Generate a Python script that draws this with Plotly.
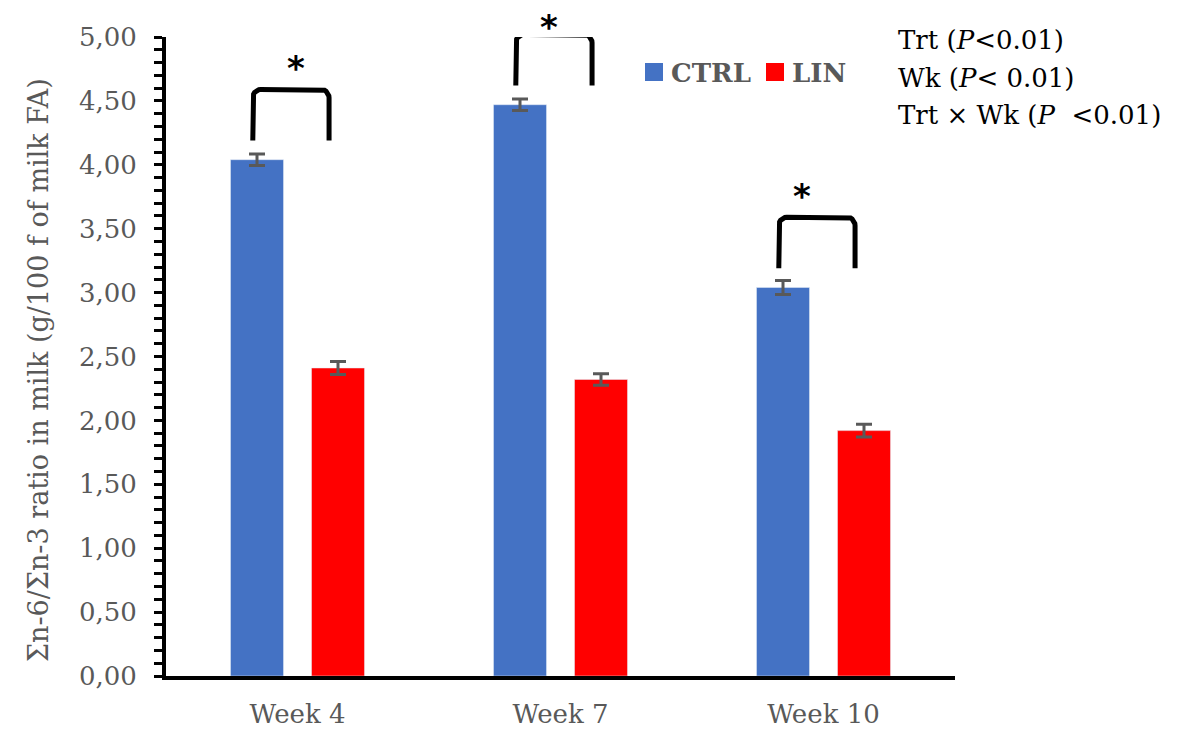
import numpy as np
import plotly.graph_objects as go

weeks = ["Week 4", "Week 7", "Week 10"]
ctrl = [4.04, 4.47, 3.04]
lin = [2.41, 2.32, 1.92]
ctrl_err = [0.045, 0.045, 0.055]
lin_err = [0.05, 0.045, 0.05]
significant = [True, True, True]
stats_lines = ["Trt (<i>P</i><0.01)", "Wk (<i>P</i>< 0.01)", "Trt × Wk (<i>P</i>  <0.01)"]
y_title = "Σn-6/Σn-3 ratio in milk (g/100 f of milk FA)"

GRAY = "#595959"
BLUE = "#4472C4"
RED = "#FF0000"
FONT = "DejaVu Serif"

# page body has an 8px margin, so the figure is offset inside the window
OFF = 8
W, H = 1184 - OFF, 729 - OFF
L, R, T, B = 166 - OFF, 229, 37 - OFF, 53
pw, ph = W - L - R, H - T - B

Y_MIN, Y_MAX = 0, 5
X_MIN, X_MAX = -0.5, len(weeks) - 0.5


def px_x(p):  # window pixel -> paper x
    return (p - OFF - L) / pw


def px_y(p):  # window pixel -> paper y
    return 1 - (p - OFF - T) / ph


def dx_paper(x):  # data x -> paper x
    return (x - X_MIN) / (X_MAX - X_MIN)


def dy_paper(y):  # data y -> paper y
    return (y - Y_MIN) / (Y_MAX - Y_MIN)


xs = list(range(len(weeks)))

fig = go.Figure()
fig.add_trace(go.Bar(
    x=xs, y=ctrl, name="CTRL", marker_color=BLUE, showlegend=False,
    error_y=dict(type="data", array=ctrl_err, color=GRAY, thickness=3, width=8),
))
fig.add_trace(go.Bar(
    x=xs, y=lin, name="LIN", marker_color=RED, showlegend=False,
    error_y=dict(type="data", array=lin_err, color=GRAY, thickness=3, width=8),
))

annotations = []
# significance brackets
rx, ry = 0.03, 0.065
t = np.linspace(0, np.pi / 2, 8)
STAR_SIZE = 34
star_box = int(STAR_SIZE * 1.17) + 1
for i, (c, sig) in enumerate(zip(ctrl, significant)):
    if not sig:
        continue
    x0, x1 = i - 0.17, i + 0.12
    ytop, ybot = c + 0.55, c + 0.15
    left_arc_x = x0 + rx - rx * np.cos(t)
    left_arc_y = ytop - ry + ry * np.sin(t)
    right_arc_x = x1 - rx + rx * np.sin(t)
    right_arc_y = ytop - ry + ry * np.cos(t)
    bx = np.concatenate([[x0], left_arc_x, right_arc_x, [x1]])
    by = np.concatenate([[ybot], left_arc_y, right_arc_y, [ybot]])
    fig.add_trace(go.Scatter(x=bx, y=by, mode="lines", showlegend=False,
                             line=dict(color="black", width=5), hoverinfo="skip",
                             cliponaxis=False))
    # keep the asterisk's text box inside the page
    star_y = min(dy_paper(ytop), px_y(OFF + star_box))
    annotations.append(dict(x=dx_paper((x0 + x1) / 2 - 0.02), y=star_y,
                            xref="paper", yref="paper", borderpad=0,
                            text="<b>*</b>", showarrow=False, yanchor="bottom",
                            font=dict(family="DejaVu Sans", size=STAR_SIZE, color="black")))

for k, line in enumerate(stats_lines):
    annotations.append(dict(x=px_x(896), y=px_y(40 + 37.5 * k), xref="paper", yref="paper",
                            text=line, showarrow=False, xanchor="left", yanchor="middle",
                            font=dict(family=FONT, size=26, color="black")))

# y-axis title as a rotated annotation
annotations.append(dict(x=px_x(38), y=px_y(370), xref="paper", yref="paper",
                        text=y_title, textangle=-90, showarrow=False,
                        xanchor="center", yanchor="middle",
                        font=dict(family=FONT, size=27, color=GRAY)))

# manual legend
shapes = []
legend_items = [("CTRL", BLUE, 645), ("LIN", RED, 766)]
for name, col, xl in legend_items:
    shapes.append(dict(type="rect", xref="paper", yref="paper",
                       x0=px_x(xl), x1=px_x(xl + 18), y0=px_y(81), y1=px_y(63),
                       fillcolor=col, line=dict(width=0)))
    annotations.append(dict(x=px_x(xl + 24), y=px_y(73), xref="paper", yref="paper",
                            text=f"<b>{name}</b>", showarrow=False, xanchor="left",
                            yanchor="middle",
                            font=dict(family=FONT, size=26, color=GRAY)))

fig.update_layout(
    width=W, height=H,
    margin=dict(l=L, r=R, t=T, b=B, autoexpand=False),
    plot_bgcolor="white", paper_bgcolor="white",
    separators=", ",
    barmode="group", bargap=0.384, bargroupgap=0.346,
    font=dict(family=FONT, color=GRAY),
    showlegend=False,
    shapes=shapes,
    annotations=annotations,
)
fig.update_xaxes(
    range=[X_MIN, X_MAX], tickvals=xs, ticktext=weeks,
    showline=True, linecolor="black", linewidth=4, ticks="",
    tickfont=dict(family=FONT, size=26, color=GRAY),
    ticklabelstandoff=12, showgrid=False, zeroline=False, automargin=False,
)
fig.update_yaxes(
    range=[Y_MIN, Y_MAX], dtick=0.5, tickformat=".2f",
    showline=True, linecolor="black", linewidth=4,
    ticks="outside", ticklen=8, tickwidth=3, tickcolor="black",
    minor=dict(dtick=0.1, ticks="outside", ticklen=8, tickwidth=3, tickcolor="black"),
    tickfont=dict(family=FONT, size=26, color=GRAY),
    ticklabelstandoff=12, showgrid=False, zeroline=False, automargin=False,
)

fig.write_html("out.html")
